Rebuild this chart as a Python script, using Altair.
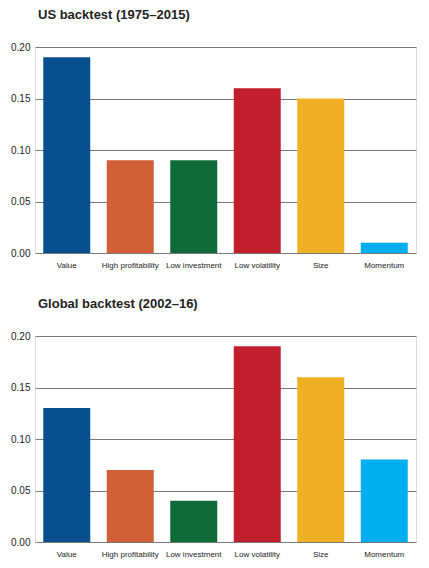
import altair as alt
import pandas as pd

factors = ["Value", "High profitability", "Low investment", "Low volatility", "Size", "Momentum"]
us_values = [0.19, 0.09, 0.09, 0.16, 0.15, 0.01]
global_values = [0.13, 0.07, 0.04, 0.19, 0.16, 0.08]
colors = ["#074f8f", "#d05f38", "#0e6b38", "#c11f2e", "#efb025", "#00adee"]
y_ticks = [0.0, 0.05, 0.10, 0.15, 0.20]

FONT = "Liberation Sans"


def panel(values, title):
    df = pd.DataFrame({"factor": factors, "value": values})
    return alt.Chart(df, title=alt.TitleParams(
        title, anchor="start", frame="group", font=FONT, fontSize=13, fontWeight="bold",
        color="#222222", offset=20, dx=3)).mark_bar().encode(
        x=alt.X("factor:N", sort=factors,
                scale=alt.Scale(paddingInner=0.26, paddingOuter=0.13),
                axis=alt.Axis(title=None, labelAngle=0, domain=False, ticks=False,
                              labelFont=FONT, labelFontSize=8, labelColor="#222222",
                              labelPadding=8)),
        y=alt.Y("value:Q", scale=alt.Scale(domain=[0, 0.2]),
                axis=alt.Axis(title=None, values=y_ticks, format=".2f", domain=False,
                              ticks=False, grid=True, gridColor="#7a7a7a", gridWidth=1,
                              labelFont=FONT, labelFontSize=10, labelColor="#222222",
                              labelPadding=5)),
        color=alt.Color("factor:N", sort=factors,
                        scale=alt.Scale(domain=factors, range=colors), legend=None),
    ).properties(width=381, height=206)


chart = alt.vconcat(
    panel(us_values, "US backtest (1975\u20132015)"),
    panel(global_values, "Global backtest (2002\u201316)"),
    spacing=27,
).properties(padding={"left": 2, "top": 0, "right": 0, "bottom": 0}).configure_view(
    stroke=None
).configure(background="white")

chart.save("out.html", embed_options={"renderer": "svg", "actions": False})
